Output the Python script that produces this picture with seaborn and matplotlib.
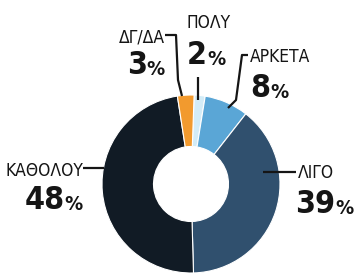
import matplotlib
matplotlib.use("Agg")
import matplotlib.pyplot as plt
import seaborn as sns

# share of answers, clockwise from the top
labels = ["ΠΟΛΥ", "ΑΡΚΕΤΑ", "ΛΙΓΟ", "ΚΑΘΟΛΟΥ", "ΔΓ/ΔΑ"]
values = [2, 8, 39, 48, 3]
colors = ["#d3ecf7", "#5aa6d6", "#30506e", "#111b25", "#f29a2e"]

W, H = 354, 275
INK = "#151515"
NARROW = dict(fontstretch="condensed", color=INK)


def label_block(ax, name, value, x, y_name, y_pct, ha, x_pct=None):
    # name line, then big bold number with a smaller percent sign
    if x_pct is None:
        x_pct = x
    ax.text(x, H - y_name, name, ha=ha, va="baseline", fontsize=12.5, **NARROW)
    if ha == "right":
        sign = ax.text(x_pct, H - y_pct, "%", ha="right", va="baseline",
                       fontsize=14.5, fontweight="bold", **NARROW)
        ax.annotate(str(value), xy=(0, 0), xycoords=sign, ha="right",
                    va="bottom", fontsize=23, fontweight="bold",
                    xytext=(0, -1.5), textcoords="offset points", **NARROW)
    else:
        num = ax.text(x_pct, H - y_pct, str(value), ha="left", va="baseline",
                      fontsize=23, fontweight="bold", **NARROW)
        ax.annotate("%", xy=(1, 0), xycoords=num, ha="left", va="bottom",
                    fontsize=14.5, fontweight="bold",
                    xytext=(0, 1.5), textcoords="offset points", **NARROW)


def main():
    sns.set_theme(style="white")
    plt.rcParams["font.family"] = ["DejaVu Sans"]

    fig = plt.figure(figsize=(3.54, 2.75), dpi=100)
    fig.patch.set_facecolor("white")
    ax = fig.add_axes([0, 0, 1, 1])

    ax.pie(values, colors=colors, startangle=88, counterclock=False,
           radius=89, center=(191, H - 184),
           wedgeprops=dict(width=51.5, edgecolor="white", linewidth=0.8))
    ax.set_xlim(0, W)
    ax.set_ylim(0, H)
    ax.set_aspect("equal")
    ax.axis("off")

    # leader lines (image coords, y from top)
    leaders = [
        [(165, 35), (176, 35), (178, 80), (182, 96)],
        [(198, 77), (198, 100)],
        [(248, 55), (242, 55), (236, 100), (228, 108)],
        [(83, 168), (104, 168)],
        [(263, 172), (296, 172)],
    ]
    for pts in leaders:
        ax.plot([p[0] for p in pts], [H - p[1] for p in pts],
                color=INK, lw=1.6, solid_capstyle="butt")

    label_block(ax, labels[4], values[4], 165, 42, 75, "right")
    label_block(ax, labels[0], values[0], 187, 28, 64, "left")
    label_block(ax, labels[1], values[1], 250, 62, 97, "left")
    label_block(ax, labels[3], values[3], 83, 176, 210, "right")
    label_block(ax, labels[2], values[2], 298, 178, 213, "left", x_pct=295)

    fig.savefig("out.png", dpi=100, facecolor="white")


if __name__ == "__main__":
    main()
